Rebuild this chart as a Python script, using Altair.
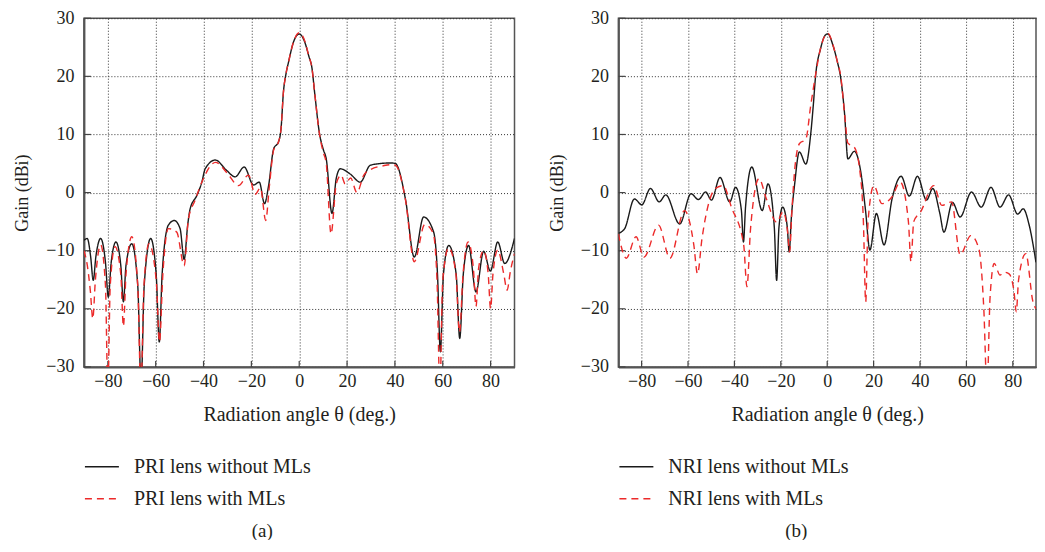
import altair as alt
import pandas as pd

FONT = "Liberation Serif"
TXT = "#231f20"

X_TICKS = [-80, -60, -40, -20, 0, 20, 40, 60, 80]
Y_TICKS = [-30, -20, -10, 0, 10, 20, 30]

LABELS_A = ["PRI lens without MLs", "PRI lens with MLs"]
LABELS_B = ["NRI lens without MLs", "NRI lens with MLs"]

# ---- panel (a): PRI lens ----
PRI_ANG_WO = [-90, -88.6, -87.2, -86.1, -85.0, -83.0, -81.0, -79.8, -78.6, -76.6, -74.6, -73.5, -72.4,
              -70.0, -67.5, -66.1, -64.8, -62.1, -59.8, -58.5, -57.3, -54.7, -52.2, -49.8, -48.1, -46.6,
              -45.6, -42.8, -40.7, -39.3, -35.1, -30.3, -26.8, -23.0, -19.1, -16.7, -14.5, -12.8, -10.7,
              -8.6, -7.6, -6.6, -5.5, -4.5, -2.4, 0.0, 2.4, 4.0, 5.3, 6.5, 8.5, 10.0, 11.3, 13.7, 15.5,
              17.2, 21.3, 25.5, 29.7, 34.0, 38.0, 40.2, 44.4, 48.1, 52.0, 56.2, 57.8, 59.0, 60.3, 62.5,
              65.6, 67.1, 68.6, 70.8, 73.9, 77.1, 79.9, 83.0, 85.9, 90.0]
PRI_GAIN_WO = [-8.2, -7.9, -11.0, -15.1, -11.0, -7.9, -12.0, -18.0, -12.0, -8.5, -12.5, -18.8, -12.5,
               -8.8, -16.0, -33.0, -16.0, -7.9, -14.0, -25.7, -14.0, -5.6, -4.8, -6.2, -11.5, -5.5,
               -2.8, -0.5, 1.8, 4.1, 5.6, 3.8, 2.7, 4.4, 1.3, 1.8, -1.9, 1.2, 7.5,
               8.8, 11.0, 17.3, 20.5, 22.4, 25.9, 27.3, 25.8, 23.5, 21.5, 17.0, 10.1, 7.5, 5.8, -3.6, 2.5,
               4.1, 3.2, 1.8, 4.7, 5.0, 5.1, 5.0, -1.1, -11.1, -4.2, -6.8, -14.0, -27.4, -14.0, -9.1,
               -14.0, -25.1, -14.0, -9.1, -17.1, -10.1, -13.5, -8.5, -12.2, -7.9]

PRI_ANG_W = [-90, -88.6, -87.3, -86.3, -85.2, -83.0, -81.0, -80.0, -79.0, -77.0, -74.6, -73.5, -72.4,
             -70.0, -67.5, -66.2, -64.9, -62.8, -59.8, -58.4, -57.0, -54.7, -51.2, -48.1, -46.3, -43.5,
             -40.5, -35.0, -30.0, -25.4, -21.2, -18.4, -16.2, -14.0, -12.5, -10.7, -8.6, -7.6, -6.6,
             -5.5, -4.5, -2.4, 0.0, 2.4, 4.0, 5.3, 6.5, 8.5, 10.0, 11.3, 13.3, 15.5, 17.5, 19.2, 21.5,
             24.1, 27.0, 30.0, 35.0, 38.0, 40.2, 44.4, 48.1, 52.5, 56.0, 57.6, 58.8, 60.0, 62.5, 65.5,
             67.0, 68.5, 70.6, 72.8, 73.9, 75.0, 77.1, 79.0, 80.0, 81.0, 83.0, 85.5, 86.9, 88.3, 90.0]
PRI_GAIN_W = [-10.0, -12.5, -17.0, -21.7, -15.0, -9.0, -16.0, -34.0, -16.0, -9.3, -14.0, -23.0, -14.0,
              -7.6, -16.0, -34.0, -16.0, -8.8, -15.0, -25.7, -14.0, -6.2, -6.8, -12.6, -4.5, -1.3,
              2.0, 5.2, 3.3, 1.2, 3.0, -0.3, 0.8, -4.8, 1.0, 7.3, 8.8, 11.0, 17.3,
              20.5, 22.4, 25.9, 27.5, 26.0, 23.5, 21.5, 17.0, 10.0, 7.0, 5.0, -7.1, 1.5, 3.0, 1.5, 2.5,
              0.0, 3.0, 4.0, 4.6, 4.8, 4.7, -1.2, -11.9, -5.5, -7.0, -15.0, -34.0, -15.0, -9.5, -14.0,
              -24.0, -14.0, -8.5, -13.0, -19.6, -13.0, -10.0, -14.0, -20.0, -14.0, -9.9, -14.0, -16.8, -13.5, -10.5]

# ---- panel (b): NRI lens ----
NRI_ANG_WO = [-90, -87.3, -83.1, -79.9, -76.2, -72.4, -69.6, -63.6, -58.7, -55.5, -52.4, -49.9, -46.2,
              -42.0, -39.5, -37.0, -36.1, -35.2, -32.5, -28.0, -25.5, -22.8, -21.8, -20.8, -19.2, -17.2,
              -16.4, -15.4, -14.1, -12.0, -9.2, -7.1, -6.0, -5.0, -2.9, -0.8, 0.3, 2.5, 4.2, 5.9, 7.5, 8.9,
              11.7, 14.5, 16.5, 18.4, 21.2, 24.5, 28.0, 31.9, 35.4, 38.9, 42.8, 45.5, 48.5, 50.3, 54.0,
              57.3, 62.2, 66.4, 70.6, 74.5, 78.2, 82.1, 84.5, 87.0, 90.0]
NRI_GAIN_WO = [-7.0, -6.2, -1.1, -2.1, 0.7, -1.6, -0.4, -5.4, -0.2, -1.2, 0.1, -1.3, 2.6,
               -1.6, 0.9, -3.0, -8.5, -2.5, 4.4, -3.1, 1.5, -6.0, -15.1, -6.0, -2.5, -6.0,
               -10.2, -4.0, 1.2, 7.0, 4.9, 10.1, 15.0, 20.1, 24.7, 27.1, 27.3, 25.3, 22.8, 19.5, 13.5, 5.8,
               7.1, 3.5, -3.0, -9.9, -3.6, -9.0, -1.0, 2.8, -0.6, 2.8, -1.3, 0.7, -3.5, -6.8, -1.7,
               -4.2, 0.1, -2.5, 0.9, -2.5, -0.4, -3.7, -2.8, -5.5, -12.0]

NRI_ANG_W = [-90, -86.6, -82.4, -79.0, -72.7, -67.8, -61.5, -57.5, -55.9, -54.0, -48.2, -44.8, -41.3,
             -36.0, -34.6, -33.0, -29.4, -26.2, -21.8, -19.0, -17.0, -16.2, -15.2, -14.1, -12.0, -9.2,
             -7.1, -5.0, -2.9, -0.8, 0.3, 2.5, 4.2, 5.9, 7.5, 8.9, 11.7, 14.0, 15.6, 16.6, 17.6, 20.1,
             23.6, 27.8, 31.5, 35.0, 36.1, 37.3, 40.3, 45.9, 49.4, 53.6, 57.3, 61.9, 65.4, 67.5, 68.9,
             70.2, 72.0, 74.5, 76.2, 78.4, 80.5, 81.5, 82.5, 85.6, 88.7, 90.0]
NRI_GAIN_W = [-7.1, -11.3, -7.6, -11.1, -5.6, -11.3, -3.1, -9.0, -14.0, -8.0, 0.7, 1.2, -2.5,
              -9.0, -16.2, -6.0, 2.4, -1.1, -5.1, -3.3, -7.0, -10.2, -3.0, 3.5, 8.4, 9.2,
              15.0, 20.3, 24.8, 27.1, 27.4, 25.4, 22.8, 19.8, 13.5, 8.5, 7.8, 4.0, -5.0, -18.8, -5.0, 1.2,
              -1.9, -0.8, 1.8, -5.0, -11.9, -5.0, -3.3, 1.2, -2.2, -1.6, -10.7, -7.4, -9.7, -20.0, -34.0,
              -18.0, -12.2, -14.2, -13.7, -14.0, -17.0, -20.5, -15.0, -10.5, -18.8, -20.0]

W_A, W_B, H = 431, 418, 349


def make_df(labels, ang_wo, gain_wo, ang_w, gain_w):
    a = pd.DataFrame({"angle": ang_wo, "gain": gain_wo, "series": labels[0], "k": 0})
    b = pd.DataFrame({"angle": ang_w, "gain": gain_w, "series": labels[1], "k": 1})
    return pd.concat([a, b], ignore_index=True)


def x_enc(field):
    return alt.X(f"{field}:Q", scale=alt.Scale(domain=[-90, 90], nice=False, zero=False),
                 axis=alt.Axis(values=X_TICKS, title="Radiation angle θ (deg.)", grid=True,
                               ticks=False, labelPadding=6, titlePadding=14, format="d",
                               titleFontSize=20))


def y_enc(field):
    return alt.Y(f"{field}:Q", scale=alt.Scale(domain=[-30, 30], nice=False, zero=False),
                 axis=alt.Axis(values=Y_TICKS, title="Gain (dBi)", grid=True, ticks=False,
                               labelPadding=10, titlePadding=14, format="d", titleFontSize=18))


def panel(labels, ang_wo, gain_wo, ang_w, gain_w, caption, width, cap_x):
    df = make_df(labels, ang_wo, gain_wo, ang_w, gain_w)
    leg = alt.Legend(orient="none", legendX=0, legendY=431, title=None, symbolType="stroke",
                     symbolSize=1156, symbolStrokeWidth=1.4, labelFont=FONT, labelFontSize=20,
                     labelColor=TXT, labelOffset=14, rowPadding=4, padding=0, labelLimit=0)
    lines = alt.Chart(df).mark_line(interpolate="monotone", clip=True, strokeWidth=1.4).encode(
        x=x_enc("angle"),
        y=y_enc("gain"),
        color=alt.Color("series:N", scale=alt.Scale(domain=labels, range=["#1a1a1a", "#ec2a2a"]),
                        legend=leg),
        strokeDash=alt.StrokeDash("series:N", scale=alt.Scale(domain=labels, range=[[1, 0], [7, 5]]),
                                  legend=leg),
        order="k:Q",
    )
    ytk = alt.Chart(pd.DataFrame({"gain": Y_TICKS})).mark_rule(color="#444", strokeWidth=1.2).encode(
        y=y_enc("gain"), x=alt.value(0), x2=alt.value(7))
    xtk = alt.Chart(pd.DataFrame({"angle": X_TICKS})).mark_rule(color="#444", strokeWidth=1.2).encode(
        x=x_enc("angle"), y=alt.value(H), y2=alt.value(H - 6))
    cap = alt.Chart(pd.DataFrame({"c": [caption]})).mark_text(
        font=FONT, fontSize=19, color=TXT, baseline="middle", align="center").encode(
        x=alt.value(cap_x), y=alt.value(513), text="c:N")
    return alt.layer(ytk, xtk, lines, cap).properties(width=width, height=H)


pa = panel(LABELS_A, PRI_ANG_WO, PRI_GAIN_WO, PRI_ANG_W, PRI_GAIN_W, "(a)", W_A, 178.5)
pb = panel(LABELS_B, NRI_ANG_WO, NRI_GAIN_WO, NRI_ANG_W, NRI_GAIN_W, "(b)", W_B, 178)

chart = alt.hconcat(pa, pb, spacing=32).resolve_scale(
    color="independent", strokeDash="independent", x="independent", y="independent"
).properties(
    padding={"left": 5, "top": 0, "right": 0, "bottom": -2}
).configure_view(
    stroke="#555", strokeWidth=1.5
).configure_axis(
    labelFont=FONT, labelFontSize=18, labelColor=TXT,
    titleFont=FONT, titleFontWeight="normal", titleColor=TXT,
    domainColor="#555", domainWidth=2,
    gridColor="#333", gridDash=[1, 2], gridWidth=1,
)

chart.save("out.html", embed_options={"renderer": "svg", "actions": False})
